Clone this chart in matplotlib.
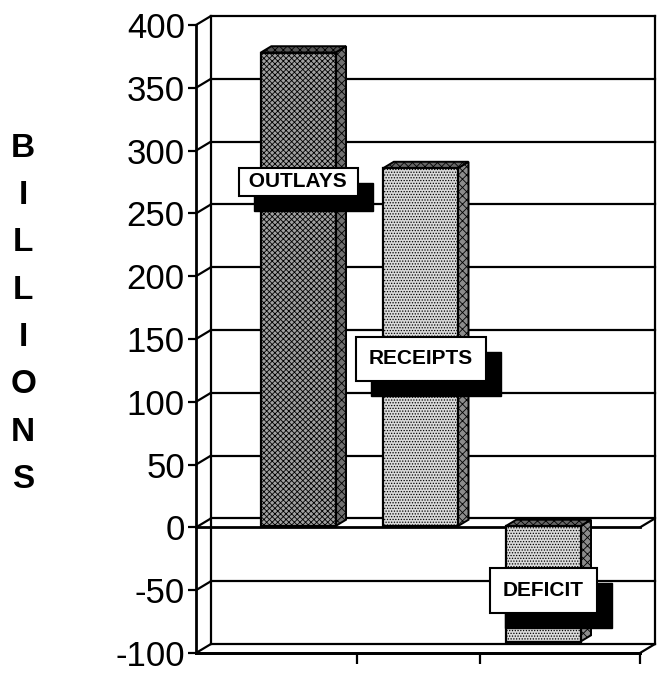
import matplotlib
matplotlib.use("Agg")
import matplotlib.pyplot as plt
import matplotlib.transforms as mtransforms
from matplotlib.patches import Polygon, Rectangle
from matplotlib.lines import Line2D
import numpy as np

plt.rcParams["font.family"] = ["Liberation Sans", "DejaVu Sans"]
plt.rcParams["axes.unicode_minus"] = False
plt.rcParams["hatch.linewidth"] = 0.6

# data (billions)
categories = ["OUTLAYS", "RECEIPTS", "DEFICIT"]
values = [377, 285, -92]
y_ticks = [-100, -50, 0, 50, 100, 150, 200, 250, 300, 350, 400]
y_label = "BILLIONS"

# where each bar label sits (data units)
label_y = [274, 133, -51]
label_pad = [0.22, 0.62, 0.62]

front_col = ["#a0a0a0", "#dadada", "#dadada"]
side_col = ["#707070", "#8c8c8c", "#8c8c8c"]
top_col = ["#555555", "#666666", "#666666"]
hatches = ["xxxxxx", "......", "......"]

fig = plt.figure(figsize=(6.63, 6.79), dpi=100)
ax = fig.add_axes([0.2956, 0.0383, 0.6697, 0.9249])
xmin, xmax = -0.816, 2.809
ax.set_xlim(xmin, xmax)
ax.set_ylim(-100, 400)
ax.set_autoscale_on(False)

# depth of the box in pixels, and of bars
wall = np.array([15.0, 9.0])
bar_front = np.array([2.25, 1.35])
bar_back = bar_front + np.array([10.5, 6.3])


def shifted(dx, dy):
    return mtransforms.offset_copy(ax.transData, fig=fig, x=dx, y=dy, units="dots")


def disp(x, y, off):
    return ax.transData.transform((x, y)) + off


def seg(p, q, lw=1.6, z=2):
    ax.add_line(Line2D([p[0], q[0]], [p[1], q[1]], transform=None, color="black",
                       lw=lw, zorder=z, clip_on=False, solid_capstyle="butt"))


back = shifted(*wall)
lw_grid = 1.6

# back wall grid + left wall depth lines
for v in y_ticks:
    ax.plot([xmin, xmax], [v, v], color="black", lw=lw_grid, transform=back, clip_on=False, zorder=1)
    seg(disp(xmin, v, 0), disp(xmin, v, wall), lw=lw_grid)
ax.plot([xmin, xmin], [-100, 400], color="black", lw=lw_grid, transform=back, clip_on=False, zorder=1)
ax.plot([xmax, xmax], [-100, 400], color="black", lw=lw_grid, transform=back, clip_on=False, zorder=1)

# floors at 0 and -100
for v in [0, -100]:
    ax.plot([xmin, xmax], [v, v], color="black", lw=2.0, clip_on=False, zorder=1.5)
    seg(disp(xmax, v, 0), disp(xmax, v, wall), lw=lw_grid)

# bars
w = 0.61
x = np.arange(len(categories))
for i, v in enumerate(values):
    ax.bar(x[i], v, width=w, color=front_col[i], edgecolor="black", linewidth=1.6,
           hatch=hatches[i], transform=shifted(*bar_front), zorder=3)
    x1 = x[i] + w / 2
    x0 = x[i] - w / 2
    side = [disp(x1, 0, bar_front), disp(x1, v, bar_front), disp(x1, v, bar_back), disp(x1, 0, bar_back)]
    ax.add_patch(Polygon(side, closed=True, transform=None, fc=side_col[i], ec="black",
                         lw=1.4, hatch="xxxx", zorder=2.8, clip_on=False))
    yt = max(v, 0)
    top = [disp(x0, yt, bar_front), disp(x1, yt, bar_front), disp(x1, yt, bar_back), disp(x0, yt, bar_back)]
    ax.add_patch(Polygon(top, closed=True, transform=None, fc=top_col[i], ec="black",
                         lw=1.4, hatch="xxxx", zorder=2.8, clip_on=False))

# bar labels
labels = []
for i, name in enumerate(categories):
    txt = " " + name + " " if label_pad[i] < 0.3 else name
    t = ax.text(x[i], label_y[i], txt, ha="center", va="center", fontsize=15, fontweight="bold",
                color="black", transform=shifted(*bar_front), zorder=6,
                bbox=dict(boxstyle="square,pad=%.2f" % label_pad[i], fc="white", ec="black", lw=1.5))
    labels.append(t)

# front axes
for s in ["top", "right"]:
    ax.spines[s].set_visible(False)
ax.spines["left"].set_linewidth(2.0)
ax.spines["bottom"].set_linewidth(2.0)
ax.spines["left"].set_zorder(4)
ax.set_yticks(y_ticks)
ax.set_yticklabels([str(t) for t in y_ticks])
ax.set_xticks([0.5, 1.5, xmax])
ax.set_xticklabels([])
ax.tick_params(axis="y", direction="out", length=6, width=1.6, pad=2, labelsize=25)
ax.tick_params(axis="x", direction="out", length=8, width=1.6)
ax.patch.set_visible(False)

fig.text(0.035, 0.5376, "\n".join(y_label), ha="center", va="center", fontsize=24,
         fontweight="bold", linespacing=1.68)

# drop shadows behind the label boxes
fig.canvas.draw()
for t in labels:
    bb = t.get_bbox_patch().get_window_extent()
    ax.add_patch(Rectangle((bb.x0 + 15, bb.y0 - 15), bb.width, bb.height, transform=None,
                           fc="black", ec="black", zorder=5, clip_on=False))

fig.savefig("out.png", dpi=100)
